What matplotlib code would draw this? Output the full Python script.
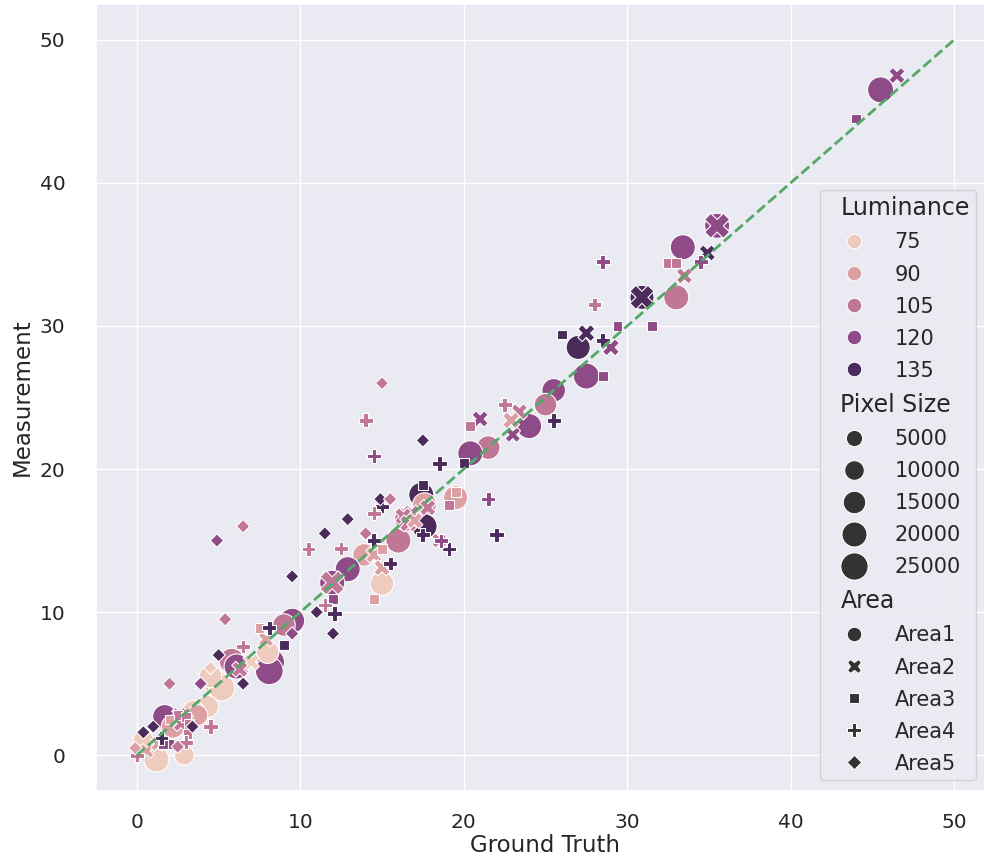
import matplotlib
matplotlib.use("Agg")
import matplotlib.pyplot as plt
from matplotlib.offsetbox import HPacker, DrawingArea, TextArea
import numpy as np
import pandas as pd
import seaborn as sns

# ---------------- data ----------------
# Area1 (circles)
a1_gt   = [45.5, 35.5, 33.4, 30.9, 33.0, 27.0, 27.5, 25.5, 25.0, 24.0, 21.5, 20.4,
           17.4, 19.5, 17.6, 17.6, 16.0, 16.5, 13.9, 15.0, 12.9, 11.95, 9.5, 9.0,
           8.2, 8.1, 8.0, 5.8, 6.1, 4.9, 5.2, 4.5, 4.3, 3.5, 1.7, 2.9, 1.0, 0.4,
           2.2, 1.2, 3.45, 3.7]
a1_meas = [46.5, 37.0, 35.5, 32.0, 32.0, 28.5, 26.5, 25.5, 24.5, 23.0, 21.5, 21.1,
           18.2, 18.0, 17.5, 16.0, 15.0, 16.5, 14.0, 12.0, 13.0, 12.05, 9.4, 9.1,
           6.5, 5.9, 7.2, 6.6, 6.2, 5.0, 4.7, 5.5, 3.4, 3.0, 2.7, 0.0, 0.0, 1.0,
           2.0, -0.3, 3.1, 2.8]
a1_lum  = [120, 120, 120, 135, 105, 135, 120, 120, 105, 120, 105, 120,
           135, 90, 90, 135, 105, 105, 90, 75, 120, 120, 120, 105,
           120, 120, 75, 105, 120, 75, 75, 75, 75, 90, 120, 75, 90, 75,
           90, 75, 75, 90]
a1_px   = [22000, 20000, 20000, 18000, 20000, 18000, 22000, 17000, 15000, 20000, 17000, 20000,
           20000, 18000, 18000, 20000, 20000, 18000, 15000, 17000, 20000, 20000, 20000, 15000,
           25000, 27000, 15000, 20000, 20000, 22000, 22000, 15000, 15000, 15000, 18000, 10000, 18000, 12000,
           16000, 20000, 12000, 12000]

# Area2 (X)
a2_gt   = [46.5, 35.5, 34.9, 33.5, 30.9, 27.5, 29.0, 23.4, 21.0, 23.0, 22.9, 16.8,
           16.3, 16.6, 17.0, 18.5, 14.5, 15.0, 11.95, 7.9, 7.0, 6.3, 2.6, 3.0,
           2.7, 0.6, 1.3, 17.8]
a2_meas = [47.5, 37.0, 35.1, 33.5, 32.0, 29.5, 28.5, 24.0, 23.5, 22.4, 23.4, 16.9,
           16.7, 16.2, 16.4, 15.0, 14.0, 13.1, 12.05, 8.1, 6.5, 6.0, 2.8, 2.45,
           2.2, 0.3, 0.8, 17.3]
a2_lum  = [120, 120, 135, 105, 135, 135, 120, 105, 120, 120, 90, 105,
           105, 105, 90, 105, 90, 90, 105, 90, 75, 105, 105, 105,
           105, 90, 90, 105]
a2_px   = [5000, 20000, 5000, 5000, 18000, 6000, 6000, 5000, 5000, 4000, 6000, 6000,
           6000, 6000, 5000, 3000, 5000, 5000, 18000, 4000, 5000, 5000, 4000, 4000,
           4000, 3000, 3000, 5000]

# Area3 (squares)
a3_gt   = [44.0, 32.5, 33.0, 29.4, 31.5, 26.0, 28.5, 20.4, 20.0, 17.5, 19.5, 19.1,
           15.0, 14.5, 12.0, 7.5, 9.0, 2.5, 3.0, 3.2, 3.1, 2.0, 1.6, 2.0]
a3_meas = [44.5, 34.4, 34.4, 30.0, 30.0, 29.4, 26.5, 23.0, 20.4, 18.9, 18.4, 17.5,
           14.4, 10.9, 10.9, 8.9, 7.7, 2.8, 2.7, 2.2, 1.5, 0.8, 0.8, 2.5]
a3_lum  = [120, 105, 105, 120, 120, 135, 120, 105, 135, 135, 90, 105,
           90, 90, 120, 90, 135, 105, 105, 105, 105, 120, 120, 90]
a3_px   = [1000, 2000, 2000, 2000, 2000, 2000, 2000, 2000, 2000, 2000, 2000, 2000,
           2000, 2000, 2000, 2000, 1500, 2000, 2000, 2000, 1500, 1500, 1500, 1500]

# Area4 (plus)
a4_gt   = [34.5, 28.5, 28.0, 28.5, 25.5, 22.5, 18.5, 14.5, 14.0, 21.5, 22.0, 17.5,
           19.1, 15.0, 14.5, 14.5, 12.5, 10.5, 15.5, 12.1, 8.1, 6.5, 4.5, 3.0,
           1.5, 0.0, 18.6, 11.5]
a4_meas = [34.5, 34.5, 31.5, 29.0, 23.4, 24.5, 20.4, 20.9, 23.4, 17.9, 15.4, 15.4,
           14.4, 17.4, 16.9, 15.0, 14.45, 14.4, 13.4, 9.9, 8.9, 7.6, 2.0, 0.9,
           1.2, 0.0, 15.0, 10.5]
a4_lum  = [120, 120, 105, 135, 135, 105, 135, 120, 105, 120, 135, 135,
           135, 135, 105, 135, 105, 105, 135, 135, 135, 105, 105, 105,
           135, 105, 120, 105]
a4_px   = [2000, 2000, 2000, 2000, 2500, 2000, 3000, 2000, 2000, 2500, 3000, 3000,
           2000, 2000, 2000, 2500, 2000, 2000, 2000, 3000, 2500, 2000, 2500, 2000,
           1500, 2000, 2000, 2000]

# Area5 (diamonds)
a5_gt   = [15.0, 17.5, 4.9, 6.5, 12.9, 11.5, 14.0, 14.9, 15.5, 9.5, 11.0, 12.0,
           9.5, 5.4, 5.0, 6.5, 3.9, 2.0, 4.5, 3.4, 1.0, 0.4, 2.5, -0.1]
a5_meas = [26.0, 22.0, 15.0, 16.0, 16.5, 15.5, 15.5, 17.9, 17.9, 12.5, 10.0, 8.5,
           8.5, 9.5, 7.0, 5.0, 5.0, 5.0, 6.1, 2.0, 2.0, 1.6, 0.6, 0.5]
a5_lum  = [105, 135, 120, 105, 135, 135, 105, 135, 105, 135, 135, 135,
           120, 105, 135, 135, 120, 105, 75, 135, 135, 135, 105, 90]
a5_px   = [1000, 1500, 1500, 1500, 1500, 1500, 1500, 1500, 1500, 1500, 1500, 1500,
           1500, 1500, 1500, 1500, 1500, 1500, 1500, 1500, 1500, 1500, 1500, 1500]

area_names = ["Area1", "Area2", "Area3", "Area4", "Area5"]
lum_levels = [75, 90, 105, 120, 135]
lum_colors = ["#eecbbd", "#dc9fa3", "#c07796", "#8f4a88", "#4b2a5c"]
diag_x = [0, 50]
diag_y = [0, 50]

# ---------------- build frame ----------------
groups = [(a1_gt, a1_meas, a1_lum, a1_px), (a2_gt, a2_meas, a2_lum, a2_px),
          (a3_gt, a3_meas, a3_lum, a3_px), (a4_gt, a4_meas, a4_lum, a4_px),
          (a5_gt, a5_meas, a5_lum, a5_px)]
frames = []
for name, (g, m, l, p) in zip(area_names, groups):
    frames.append(pd.DataFrame({"Ground Truth": g, "Measurement": m,
                                "Luminance": l, "Pixel Size": p, "Area": name}))
df = pd.concat(frames, ignore_index=True)

# ---------------- plot ----------------
sns.set_theme(style="darkgrid", color_codes=True)
plt.rcParams["font.family"] = ["DejaVu Sans"]
plt.rcParams["xtick.labelsize"] = 14.5
plt.rcParams["ytick.labelsize"] = 14.5
plt.rcParams["axes.labelsize"] = 16.5
plt.rcParams["legend.fontsize"] = 15
plt.rcParams["legend.title_fontsize"] = 17
plt.rcParams["axes.labelcolor"] = ".15"
plt.rcParams["lines.markersize"] = 10.5

fig = plt.figure(figsize=(9.84, 8.61), dpi=100)
ax = fig.add_axes([96 / 984, 70 / 861, 899 / 984, 787 / 861])

sns.scatterplot(data=df, x="Ground Truth", y="Measurement", hue="Luminance",
                hue_order=lum_levels, palette=dict(zip(lum_levels, lum_colors)),
                size="Pixel Size", style="Area", style_order=area_names,
                sizes=(75, 400), size_norm=(0, 26000), ax=ax)
ax.plot(diag_x, diag_y, "g--", lw=2)

ax.set_xlim(-2.5, 52.5)
ax.set_ylim(-2.5, 52.5)
ax.set_xticks([0, 10, 20, 30, 40, 50])
ax.set_yticks([0, 10, 20, 30, 40, 50])
ax.tick_params(axis="x", pad=10)
ax.tick_params(axis="y", pad=16)
ax.xaxis.labelpad = 1
ax.yaxis.labelpad = 4

sns.move_legend(ax, "lower right", bbox_to_anchor=(976 / 984, 81 / 861),
                bbox_transform=fig.transFigure, borderaxespad=0,
                labelspacing=0.58, handlelength=2.6, handletextpad=0.67,
                borderpad=0.3, frameon=True)

leg = ax.get_legend()
subtitles = {"Luminance", "Pixel Size", "Area"}
for hp in leg.findobj(HPacker):
    ch = hp.get_children()
    if len(ch) == 2 and isinstance(ch[0], DrawingArea) and isinstance(ch[1], TextArea):
        txt = ch[1].get_children()[0]
        if txt.get_text() in subtitles:
            ch[0].set_width(0)
            txt.set_fontsize(17)
            for a in ch[0].get_children():
                a.set_visible(False)

fig.savefig("out.png", dpi=100)
